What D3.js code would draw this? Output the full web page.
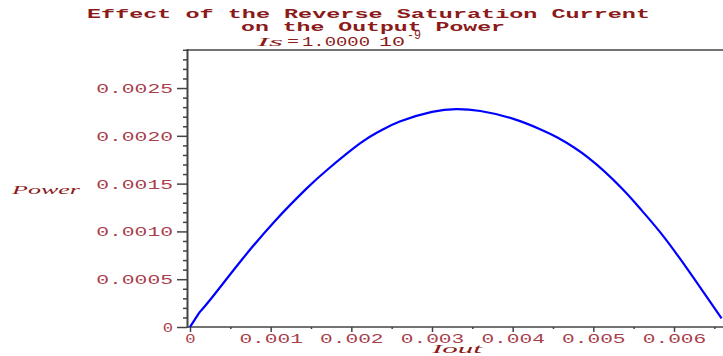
<!DOCTYPE html>
<html>
<head>
<meta charset="utf-8">
<script src="https://cdn.jsdelivr.net/npm/d3@7"></script>
<style>
  body { margin: 0; background: #fff; }
  svg { display: block; }
</style>
</head>
<body>
<div id="chart"></div>
<script>
// curve: output current vs power
var iout = [0, 0.000083, 0.000124, 0.000248, 0.00062, 0.001054, 0.001447, 0.001695,
  0.002107, 0.002355, 0.0026, 0.003, 0.0033, 0.0036, 0.004, 0.00434,
  0.00456, 0.00494, 0.005355, 0.0056, 0.00583, 0.00607, 0.00632, 0.00659];
var power = [0, 0.000108, 0.00016, 0.000282, 0.00068, 0.00111, 0.00145, 0.00164,
  0.00192, 0.00205, 0.00215, 0.00225, 0.00228, 0.00226, 0.00218, 0.00207,
  0.00198, 0.00177, 0.00145, 0.00122, 0.00099, 0.00072, 0.00042, 0.00009];

var xTicks = [0, 0.001, 0.002, 0.003, 0.004, 0.005, 0.006];
var xMinor = [0.0005, 0.0015, 0.0025, 0.0035, 0.0045, 0.0055, 0.0065];
var yTicks = [0, 0.0005, 0.0010, 0.0015, 0.0020, 0.0025];
var yLabels = ["0", "0.0005", "0.0010", "0.0015", "0.0020", "0.0025"];
var xLabels = ["0", "0.001", "0.002", "0.003", "0.004", "0.005", "0.006"];
var titleLines = ["Effect of the Reverse Saturation Current", "on the Output Power"];

var width = 723, height = 356;
var titleColor = "#8b1a1a", labelColor = "#a8404c", axisColor = "#444";
var mono = "'Liberation Mono', 'Courier New', monospace";
var serif = "'Liberation Serif', serif";
var charW = 13.3;

var svg = d3.select("#chart").append("svg")
  .attr("width", width)
  .attr("height", height);

var x = d3.scaleLinear().domain([0, 0.0066]).range([190, 722.4]);
var y = d3.scaleLinear().domain([0, 0.0029]).range([327, 49.8]);

// frame: top line and the axes
svg.append("line")
  .attr("x1", 187).attr("x2", width).attr("y1", 50).attr("y2", 50)
  .attr("stroke", axisColor).attr("stroke-width", 1.5);
svg.append("line")
  .attr("x1", 187).attr("x2", width).attr("y1", 327).attr("y2", 327)
  .attr("stroke", axisColor).attr("stroke-width", 1.5);
svg.append("line")
  .attr("x1", 187.5).attr("x2", 187.5).attr("y1", 49).attr("y2", 328)
  .attr("stroke", axisColor).attr("stroke-width", 2);

// y minor ticks every 0.0001
var yMinor = d3.range(1, 30).map(function (d) { return d / 10000; })
  .filter(function (d) { return Math.round(d * 10000) % 5 != 0; });
var gyMinor = svg.append("g")
  .attr("transform", "translate(187,0)")
  .call(d3.axisLeft(y).tickValues(yMinor).tickSize(4).tickFormat(""));
var gy = svg.append("g")
  .attr("transform", "translate(187,0)")
  .call(d3.axisLeft(y).tickValues(yTicks).tickSize(10).tickPadding(4)
    .tickFormat(function (d, i) { return yLabels[i]; }));

var gxMinor = svg.append("g")
  .attr("transform", "translate(0,327)")
  .call(d3.axisBottom(x).tickValues(xMinor).tickSize(2).tickFormat(""));
var gx = svg.append("g")
  .attr("transform", "translate(0,327)")
  .call(d3.axisBottom(x).tickValues(xTicks).tickSize(5).tickPadding(2)
    .tickFormat(function (d, i) { return xLabels[i]; }));

[gyMinor, gy, gxMinor, gx].forEach(function (g) {
  g.select(".domain").remove();
  g.selectAll(".tick line").attr("stroke", axisColor).attr("stroke-width", 1.5);
  g.selectAll("text")
    .attr("fill", labelColor)
    .attr("textLength", function () { return this.textContent.length * charW - 3; })
    .attr("lengthAdjust", "spacingAndGlyphs")
    .style("font-family", mono)
    .style("font-size", "13px");
});
gy.selectAll("text").attr("dy", "0.35em");
gx.selectAll("text").attr("dy", "0.72em");

// the curve
var line = d3.line()
  .x(function (d) { return x(d[0]); })
  .y(function (d) { return y(d[1]); })
  .curve(d3.curveNatural);

svg.append("path")
  .datum(d3.zip(iout, power))
  .attr("fill", "none")
  .attr("stroke", "#0000ff")
  .attr("stroke-width", 2.2)
  .attr("d", line);

function put(txt, x0, y0, w, font, size, italic, bold) {
  svg.append("text")
    .attr("x", x0).attr("y", y0)
    .attr("textLength", w)
    .attr("lengthAdjust", "spacingAndGlyphs")
    .attr("fill", titleColor)
    .style("font-family", font)
    .style("font-size", size + "px")
    .style("font-style", italic ? "italic" : "normal")
    .style("font-weight", bold ? "bold" : "normal")
    .text(txt);
}

// titles
put(titleLines[0], 87, 18, 563, mono, 13, false, true);
put(titleLines[1], 241, 31, 264, mono, 13, false, true);

// Is = 1.0000 10^-9
put("Is", 257, 46, 26, serif, 13, true);
put("=", 287, 45, 12, mono, 13, false);
put("1.0000", 302, 46, 68, mono, 13, false);
put("10", 379, 46, 26, mono, 13, false);
put("-9", 407, 39, 14, mono, 12, false);

// axis labels
put("Power", 12, 194, 68, serif, 13, true);
put("Iout", 432, 353, 50, serif, 13, true);
</script>
</body>
</html>
